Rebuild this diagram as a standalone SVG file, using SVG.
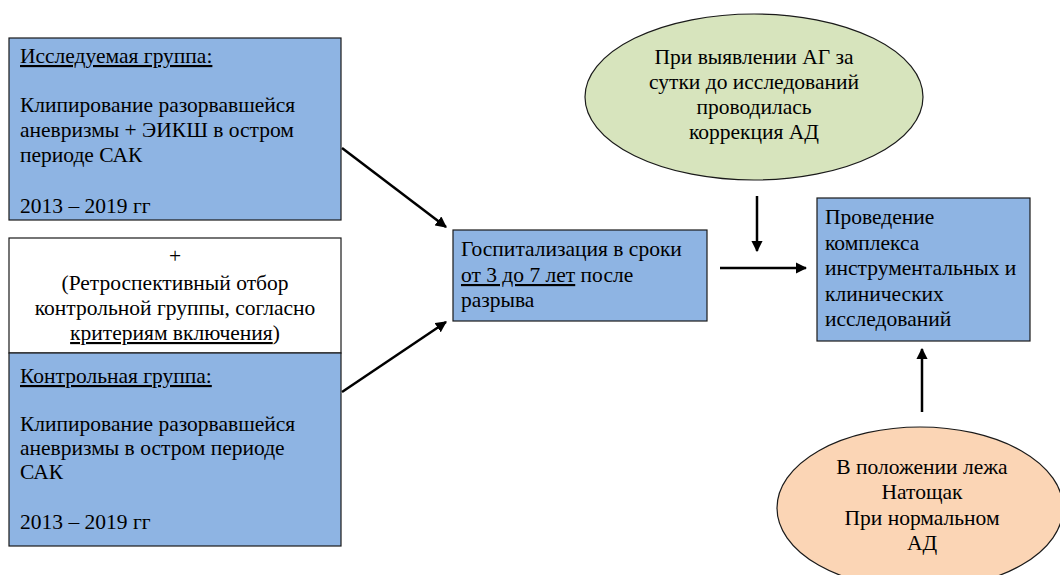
<svg xmlns="http://www.w3.org/2000/svg" width="1060" height="575" viewBox="0 0 1060 575" font-family="Liberation Serif, serif">
<defs>
<style>
.box{fill:#8EB4E3;stroke:#1a1a1a;stroke-width:1.2}
.wbox{fill:#ffffff;stroke:#1a1a1a;stroke-width:1.2}
.t{font-family:'Liberation Serif',serif;font-size:21.5px;fill:#000}
.c{text-anchor:middle}
.u{text-decoration:underline}
.ar{stroke:#000;stroke-width:2.5;fill:none;marker-end:url(#ah)}
</style>
<marker id="ah" viewBox="0 0 10 10" refX="9" refY="5" markerWidth="4.5" markerHeight="4.5" orient="auto" markerUnits="strokeWidth">
<path d="M0,0 L10,5 L0,10 z" fill="#000"/>
</marker>
</defs>
<rect width="1060" height="575" fill="#fff"/>
<g id="study">
<rect class="box" x="9" y="38" width="332" height="182"/>
<text class="t u" x="20" y="63">Исследуемая группа:</text>
<text class="t" x="20" y="112">Клипирование разорвавшейся</text>
<text class="t" x="20" y="137">аневризмы + ЭИКШ в остром</text>
<text class="t" x="20" y="162">периоде САК</text>
<text class="t" x="20" y="213">2013 – 2019 гг</text>
</g>
<g id="retro">
<rect class="wbox" x="9" y="238" width="332" height="115"/>
<text class="t c" x="175" y="263">+</text>
<text class="t c" x="175" y="290">(Ретроспективный отбор</text>
<text class="t c" x="175" y="315">контрольной группы, согласно</text>
<text class="t c" x="175" y="340"><tspan class="u">критериям включения</tspan>)</text>
</g>
<g id="control">
<rect class="box" x="9" y="353" width="332" height="193"/>
<text class="t u" x="20" y="383">Контрольная группа:</text>
<text class="t" x="20" y="431">Клипирование разорвавшейся</text>
<text class="t" x="20" y="455">аневризмы в остром периоде</text>
<text class="t" x="20" y="479">САК</text>
<text class="t" x="20" y="529">2013 – 2019 гг</text>
</g>
<g id="hosp">
<rect class="box" x="453" y="230" width="254" height="91"/>
<text class="t" x="461" y="256">Госпитализация в сроки</text>
<text class="t" x="461" y="282"><tspan class="u">от 3 до 7 лет</tspan> после</text>
<text class="t" x="461" y="307">разрыва</text>
</g>
<g id="exam">
<rect class="box" x="817" y="198" width="213" height="143"/>
<text class="t" x="825" y="224">Проведение</text>
<text class="t" x="825" y="250">комплекса</text>
<text class="t" x="825" y="275">инструментальных и</text>
<text class="t" x="825" y="301">клинических</text>
<text class="t" x="825" y="326">исследований</text>
</g>
<g id="ag">
<ellipse cx="754" cy="97" rx="169" ry="83" fill="#D7E4BD" stroke="#1a1a1a" stroke-width="1.2"/>
<text class="t c" x="754" y="64">При выявлении АГ за</text>
<text class="t c" x="754" y="89">сутки до исследований</text>
<text class="t c" x="754" y="114">проводилась</text>
<text class="t c" x="754" y="139">коррекция АД</text>
</g>
<g id="cond">
<ellipse cx="920" cy="508" rx="143" ry="81" fill="#FBD5B5" stroke="#1a1a1a" stroke-width="1.2"/>
<text class="t c" x="922" y="474">В положении лежа</text>
<text class="t c" x="922" y="499">Натощак</text>
<text class="t c" x="922" y="525">При нормальном</text>
<text class="t c" x="922" y="550">АД</text>
</g>
<g id="connectors">
<line class="ar" x1="342" y1="148" x2="446" y2="227"/>
<line class="ar" x1="342" y1="392" x2="446" y2="322"/>
<line class="ar" x1="720" y1="268" x2="806" y2="268"/>
<line class="ar" x1="757" y1="196" x2="757" y2="251"/>
<line class="ar" x1="922" y1="412" x2="922" y2="349"/>
</g>
</svg>
